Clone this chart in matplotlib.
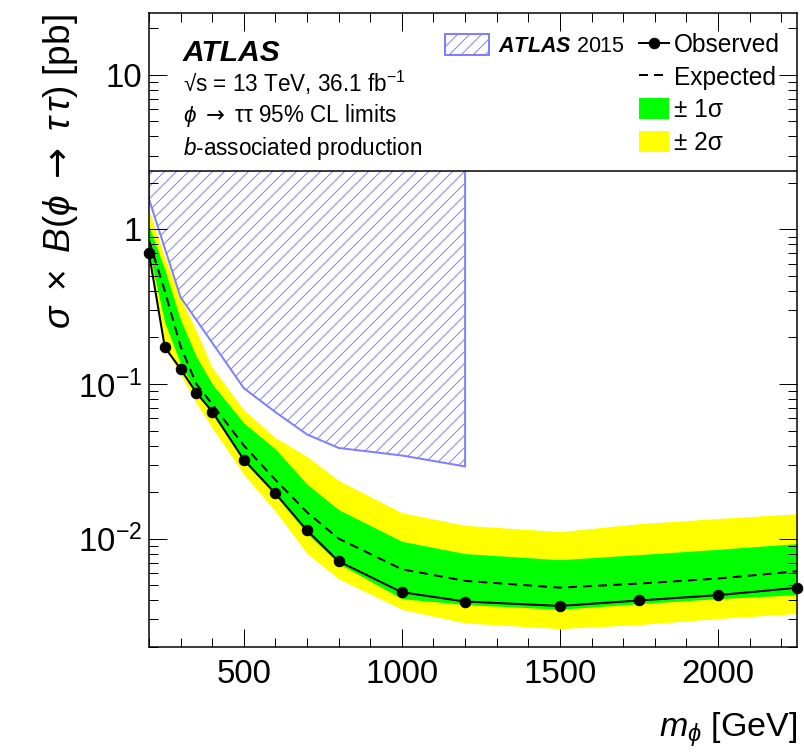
import numpy as np
import matplotlib
matplotlib.use("Agg")
import matplotlib.pyplot as plt
from matplotlib.ticker import MultipleLocator, LogLocator, NullFormatter, FuncFormatter
from matplotlib.lines import Line2D
from matplotlib.patches import Patch

# ── Style (ROOT / ATLAS look) ─────────────────────────────────────────
plt.rcParams["font.family"] = ["Liberation Sans", "DejaVu Sans"]
plt.rcParams["mathtext.fontset"] = "custom"
plt.rcParams["mathtext.rm"] = "Liberation Sans"
plt.rcParams["mathtext.it"] = "Liberation Sans:italic"
plt.rcParams["mathtext.bf"] = "Liberation Sans:bold"
plt.rcParams["mathtext.bfit"] = "Liberation Sans:bold:italic"
plt.rcParams["mathtext.sf"] = "DejaVu Sans"      # used for the long arrow
plt.rcParams["hatch.linewidth"] = 1.0
plt.rcParams["hatch.color"] = "#8c8cff"

# ── Data ─────────────────────────────────────────────────────────────
mass = [200, 250, 300, 350, 400, 500, 600, 700, 800, 1000, 1200, 1500, 1750, 2000, 2250]
observed = [0.70, 0.173, 0.125, 0.0877, 0.0664, 0.0324, 0.0196, 0.0113, 0.00713,
            0.00450, 0.00392, 0.00367, 0.00398, 0.00431, 0.00481]
expected = [0.85, 0.40, 0.175, 0.10, 0.074, 0.040, 0.024, 0.0148, 0.0100,
            0.00634, 0.00533, 0.00482, 0.00512, 0.00552, 0.00615]
band1_lo = [0.72, 0.25, 0.135, 0.088, 0.064, 0.0315, 0.019, 0.0108, 0.0069,
            0.00409, 0.00375, 0.00349, 0.00380, 0.00409, 0.00434]
band1_hi = [1.05, 0.55, 0.26, 0.15, 0.10, 0.056, 0.038, 0.0225, 0.0154,
            0.00961, 0.00800, 0.00731, 0.00788, 0.00853, 0.00929]
band2_lo = [0.60, 0.17, 0.115, 0.075, 0.052, 0.026, 0.0150, 0.0080, 0.0055,
            0.00349, 0.00285, 0.00262, 0.00278, 0.00304, 0.00328]
band2_hi = [1.32, 0.66, 0.36, 0.22, 0.128, 0.068, 0.045, 0.034, 0.0238,
            0.0147, 0.0122, 0.0111, 0.0125, 0.0135, 0.0145]

mass_2015 = [200, 300, 500, 600, 700, 800, 1000, 1200]
limit_2015 = [1.57, 0.364, 0.094, 0.0658, 0.0472, 0.0386, 0.0345, 0.0293]

XLIM = (200, 2250)
YLIM = (0.002, 25)
BOX_Y = 2.38          # bottom of the white legend area

# ── Figure ───────────────────────────────────────────────────────────
W, H = 804, 753
fig = plt.figure(figsize=(W / 72, H / 72), dpi=72, facecolor="white")
ax = fig.add_axes([149 / W, 1 - 646.7 / H, 648 / W, 633.4 / H])

ax.fill_between(mass, band2_lo, band2_hi, color="#ffff00", lw=0, zorder=1)
ax.fill_between(mass, band1_lo, band1_hi, color="#00ff00", lw=0, zorder=1.1)
ax.fill_between(mass_2015, limit_2015, 40, facecolor="none", edgecolor="#8080ff",
                hatch="//", lw=2, zorder=1.2)
ax.plot(mass, expected, color="black", lw=2, ls=(0, (4.5, 3)), zorder=2)
ax.plot(mass, observed, color="black", lw=2, marker="o", ms=10.5, zorder=2.1,
        clip_on=False)

# white legend area on top of the plot
ax.axhspan(BOX_Y, 100, facecolor="white", lw=0, zorder=2.3)
ax.axhline(BOX_Y, color="black", lw=1.5, zorder=2.4)

ax.set_yscale("log")
ax.set_xlim(*XLIM)
ax.set_ylim(*YLIM)
ax.set_axisbelow(False)

ax.xaxis.set_major_locator(MultipleLocator(500))
ax.xaxis.set_minor_locator(MultipleLocator(100))
ax.yaxis.set_major_locator(LogLocator(base=10, numticks=10))
ax.yaxis.set_minor_locator(LogLocator(base=10, subs=np.arange(2, 10), numticks=20))
ax.yaxis.set_minor_formatter(NullFormatter())


def ylab(v, pos):
    if np.isclose(v, 10):
        return "10"
    if np.isclose(v, 1):
        return "1"
    return r"$10^{%d}$" % int(round(np.log10(v)))


ax.yaxis.set_major_formatter(FuncFormatter(ylab))

ax.tick_params(which="both", direction="in", top=True, right=True, width=1,
               colors="black", labelsize=33)
ax.tick_params(which="major", length=18)
ax.tick_params(which="minor", length=9)
ax.tick_params(axis="x", pad=12)
ax.tick_params(axis="y", pad=7)
for s in ax.spines.values():
    s.set_linewidth(1.5)
    s.set_zorder(3)

# axis titles (ROOT style: aligned to the axis ends)
fig.text(61 / W, 1 - 14 / H,
         r"$\sigma\ \times\ B(\phi\ \mathsf{\rightarrow}\ \tau\,\tau)$ [pb]",
         rotation=90, ha="center", va="top", fontsize=37)
fig.text(797 / W, 1 - 737 / H, r"$m_{\phi}$ [GeV]", ha="right", va="baseline",
         fontsize=34)

# ATLAS label block
fig.text(183 / W, 1 - 61 / H, "ATLAS", fontsize=30, fontweight="bold",
         style="italic", va="baseline")
info = ["\u221as = 13 TeV, 36.1 fb$^{-1}$",
        r"$\phi\ \mathsf{\rightarrow}\ \mathrm{\tau\tau}$ 95% CL limits",
        r"$b$-associated production"]
for txt, yb in zip(info, [91.7, 121.7, 155]):
    fig.text(183 / W, 1 - yb / H, txt, fontsize=22.5, va="baseline")

# legends
FS_LEG = 24.5
h_obs = Line2D([], [], color="black", lw=2, marker="o", ms=10.5)
h_exp = Line2D([], [], color="black", lw=2, ls=(0, (4.5, 3)))
h_1s = Patch(facecolor="#00ff00", edgecolor="none")
h_2s = Patch(facecolor="#ffff00", edgecolor="none")
leg1 = ax.legend([h_obs, h_exp, h_1s, h_2s],
                 ["Observed", "Expected", "\u00b1 1\u03c3", "\u00b1 2\u03c3"],
                 loc="upper left", bbox_to_anchor=(639 / W, 1 - 33 / H),
                 bbox_transform=fig.transFigure, frameon=False, fontsize=FS_LEG,
                 borderpad=0, borderaxespad=0, handlelength=30 / FS_LEG,
                 handleheight=23 / FS_LEG, handletextpad=5 / FS_LEG,
                 labelspacing=8.5 / FS_LEG)
ax.add_artist(leg1)

FS_OLD = 21.5
h_old = Patch(facecolor="white", edgecolor="#8080ff", hatch="//", lw=2)
ax.legend([h_old], [r"$\mathbfit{ATLAS}$ 2015"], loc="upper left",
          bbox_to_anchor=(445 / W, 1 - 34 / H), bbox_transform=fig.transFigure,
          frameon=False, fontsize=FS_OLD, borderpad=0, borderaxespad=0,
          handlelength=44 / FS_OLD, handleheight=24 / FS_OLD,
          handletextpad=9 / FS_OLD)

fig.savefig("out.png", dpi=72, facecolor="white")
